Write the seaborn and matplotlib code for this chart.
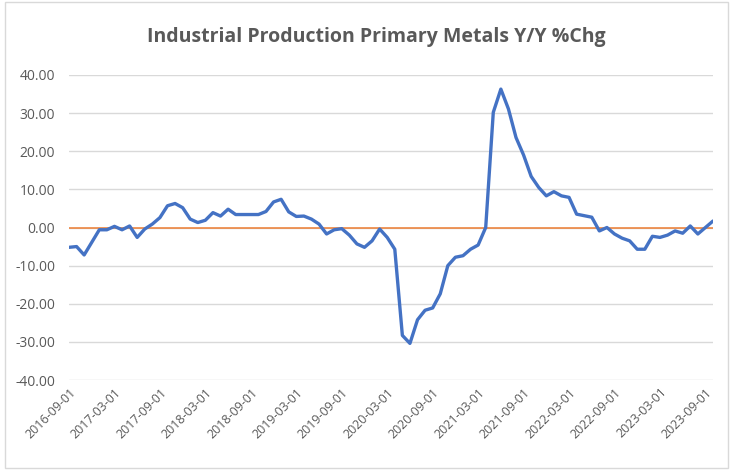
import matplotlib
matplotlib.use("Agg")
import matplotlib.pyplot as plt
import seaborn as sns
import pandas as pd
import numpy as np
from matplotlib.patches import Rectangle

title = "Industrial Production Primary Metals Y/Y %Chg"

yoy_chg = [
    -5.2, -5.0, -7.2, -3.9, -0.6, -0.6, 0.3, -0.6, 0.4, -2.6,
    -0.4, 0.9, 2.6, 5.7, 6.3, 5.2, 2.2, 1.3, 1.9, 3.9,
    3.0, 4.8, 3.4, 3.4, 3.4, 3.4, 4.2, 6.7, 7.4, 4.1,
    2.9, 3.0, 2.2, 0.9, -1.7, -0.6, -0.3, -2.0, -4.3, -5.2,
    -3.5, -0.4, -2.6, -5.7, -28.3, -30.4, -24.2, -21.7, -21.1, -17.4,
    -10.0, -7.8, -7.4, -5.7, -4.6, 0.0,
    30.2, 36.3, 31.1, 23.6, 19.0, 13.4, 10.5, 8.3, 9.4, 8.3,
    7.9, 3.5, 3.1, 2.7, -0.9, 0.0, -1.7, -2.8, -3.5, -5.7,
    -5.7, -2.3, -2.6, -2.0, -0.9, -1.5, 0.4, -1.7, 0.0, 1.7,
]
dates = pd.date_range("2016-09-01", periods=len(yoy_chg), freq="MS")
tick_labels = ["2016-09-01", "2017-03-01", "2017-09-01", "2018-03-01", "2018-09-01",
               "2019-03-01", "2019-09-01", "2020-03-01", "2020-09-01", "2021-03-01",
               "2021-09-01", "2022-03-01", "2022-09-01", "2023-03-01", "2023-09-01"]
y_ticks = [-40, -30, -20, -10, 0, 10, 20, 30, 40]

df = pd.DataFrame({"idx": np.arange(len(yoy_chg)), "value": yoy_chg,
                   "zero": [0.0] * len(yoy_chg)})

sns.set_style("white")
plt.rcParams["font.family"] = ["Open Sans", "DejaVu Sans"]

W, H = 731, 470
fig = plt.figure(figsize=(W / 100, H / 100), dpi=100)
ax = fig.add_axes([69 / W, (H - 380) / H, (713 - 69) / W, (380 - 75) / H])

for y in y_ticks:
    ax.axhline(y, color="#d9d9d9", lw=1.0, zorder=0)
sns.lineplot(data=df, x="idx", y="zero", ax=ax, color="#ED7D31", lw=1.1, zorder=2)
sns.lineplot(data=df, x="idx", y="value", ax=ax, color="#4472C4", lw=2.4, zorder=3)

ax.set_xlim(0, len(yoy_chg) - 1)
ax.set_ylim(-40, 40)
ax.set_yticks(y_ticks)
ax.set_yticklabels([f"{v:.2f}" for v in y_ticks], color="#595959", fontsize=10)
tick_pos = [dates.get_loc(pd.Timestamp(t)) for t in tick_labels]
ax.set_xticks(tick_pos)
ax.set_xticklabels(tick_labels, rotation=45, ha="right", rotation_mode="anchor",
                   color="#595959", fontsize=9)
ax.tick_params(axis="both", length=0, pad=10)
ax.tick_params(axis="x", pad=4)
for s in ax.spines.values():
    s.set_visible(False)
ax.set_xlabel("")
ax.set_ylabel("")

fig.text(0.515, (H - 37) / H, title, ha="center", va="center", fontsize=14,
         fontweight="bold", color="#595959")
fig.patches.append(Rectangle((5 / W, 2 / H), (W - 8) / W, (H - 4) / H,
                             transform=fig.transFigure, fill=False,
                             edgecolor="#d9d9d9", lw=1.0))

fig.savefig("out.png", dpi=100)
